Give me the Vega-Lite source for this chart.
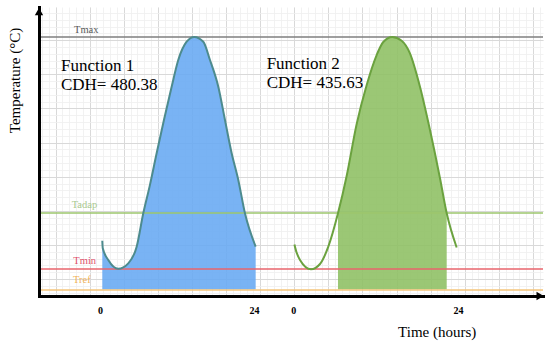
{
  "$schema": "https://vega.github.io/schema/vega-lite/v6.json",
  "width": 504,
  "height": 289,
  "autosize": {"type": "none"},
  "padding": {"left": 39, "top": 7, "right": 7, "bottom": 49},
  "background": "white",
  "config": {"view": {"stroke": null}, "font": "Liberation Serif"},
  "datasets": {
    "curves": [
      {"series": "Function 1", "t": 1.85, "T": 10.6},
      {"series": "Function 1", "t": 1.92, "T": 9.5},
      {"series": "Function 1", "t": 2.73, "T": 7.79},
      {"series": "Function 1", "t": 4.19, "T": 6.5},
      {"series": "Function 1", "t": 5.66, "T": 7.3},
      {"series": "Function 1", "t": 6.89, "T": 9.74},
      {"series": "Function 1", "t": 7.86, "T": 14.63},
      {"series": "Function 1", "t": 8.84, "T": 18.8},
      {"series": "Function 1", "t": 9.82, "T": 23.43},
      {"series": "Function 1", "t": 10.89, "T": 28.31},
      {"series": "Function 1", "t": 12.02, "T": 33.2},
      {"series": "Function 1", "t": 12.99, "T": 37.11},
      {"series": "Function 1", "t": 14.22, "T": 39.79},
      {"series": "Function 1", "t": 15.34, "T": 40.5},
      {"series": "Function 1", "t": 16.66, "T": 39.79},
      {"series": "Function 1", "t": 17.64, "T": 37.11},
      {"series": "Function 1", "t": 18.86, "T": 33.2},
      {"series": "Function 1", "t": 19.84, "T": 28.31},
      {"series": "Function 1", "t": 20.82, "T": 23.43},
      {"series": "Function 1", "t": 21.79, "T": 19.52},
      {"series": "Function 1", "t": 22.77, "T": 14.63},
      {"series": "Function 1", "t": 24.34, "T": 9.74},
      {"series": "Function 2", "t": 30.03, "T": 10.06},
      {"series": "Function 2", "t": 30.1, "T": 9.74},
      {"series": "Function 2", "t": 30.84, "T": 7.79},
      {"series": "Function 2", "t": 32.45, "T": 6.42},
      {"series": "Function 2", "t": 33.77, "T": 7.2},
      {"series": "Function 2", "t": 34.99, "T": 9.74},
      {"series": "Function 2", "t": 36.41, "T": 14.63},
      {"series": "Function 2", "t": 37.68, "T": 20.1},
      {"series": "Function 2", "t": 39.15, "T": 27.73},
      {"series": "Function 2", "t": 40.62, "T": 33.45},
      {"series": "Function 2", "t": 42.08, "T": 37.84},
      {"series": "Function 2", "t": 43.05, "T": 39.75},
      {"series": "Function 2", "t": 44.37, "T": 40.5},
      {"series": "Function 2", "t": 45.75, "T": 39.94},
      {"series": "Function 2", "t": 46.96, "T": 38.09},
      {"series": "Function 2", "t": 48.43, "T": 33.2},
      {"series": "Function 2", "t": 49.9, "T": 26.85},
      {"series": "Function 2", "t": 51.36, "T": 19.81},
      {"series": "Function 2", "t": 52.35, "T": 14.63},
      {"series": "Function 2", "t": 53.81, "T": 9.62}
    ],
    "refs": [
      {"name": "Tmax", "T": 40.48},
      {"name": "Tadap", "T": 14.68},
      {"name": "Tmin", "T": 6.47},
      {"name": "Tref", "T": 3.39}
    ],
    "reflabels": [
      {"name": "Tmax", "t": -2.3, "T": 41.03},
      {"name": "Tadap", "t": -2.64, "T": 15.41},
      {"name": "Tmin", "t": -2.4, "T": 7.2},
      {"name": "Tref", "t": -2.45, "T": 4.41}
    ],
    "notes": [
      {"text": "Function 1", "t": -4.21, "T": 35.54},
      {"text": "CDH= 480.38", "t": -4.21, "T": 32.71},
      {"text": "Function 2", "t": 25.95, "T": 35.75},
      {"text": "CDH= 435.63", "t": 25.95, "T": 32.96}
    ]
  },
  "layer": [
    {
      "data": {"name": "curves"},
      "transform": [{"filter": "datum.series == 'Function 1'"}],
      "mark": {"type": "area", "interpolate": "monotone", "color": "#66a8f2", "opacity": 0.88},
      "encoding": {
        "x": {"field": "t", "type": "quantitative", "scale": {"domain": [-7.43, 66.47], "nice": false, "zero": false},
          "axis": {"orient": "bottom", "grid": true, "tickCount": 74, "gridColor": "#efefef", "gridWidth": 0.8, "domain": false, "ticks": false, "labels": false, "title": null, "zindex": 0}},
        "y": {"field": "T", "type": "quantitative", "scale": {"domain": [2.51, 44.88], "nice": false, "zero": false},
          "axis": {"orient": "left", "grid": true, "tickCount": 43, "gridColor": "#efefef", "gridWidth": 0.8, "domain": false, "ticks": false, "labels": false, "title": null, "zindex": 0}},
        "y2": {"datum": 3.45}
      }
    },
    {
      "data": {"name": "curves"},
      "transform": [{"filter": "datum.series == 'Function 2' && datum.t >= 36.41 && datum.t <= 52.35"}],
      "mark": {"type": "area", "interpolate": "monotone", "color": "#8dbf62", "opacity": 0.88},
      "encoding": {
        "x": {"field": "t", "type": "quantitative", "scale": {"domain": [-7.43, 66.47], "nice": false, "zero": false},
          "axis": {"orient": "bottom", "grid": true, "tickCount": 15, "gridColor": "#d9d9d9", "gridWidth": 1, "domain": false, "ticks": false, "labels": false, "title": null, "zindex": 0}},
        "y": {"field": "T", "type": "quantitative", "scale": {"domain": [2.51, 44.88], "nice": false, "zero": false},
          "axis": {"orient": "left", "grid": true, "tickCount": 9, "gridColor": "#d9d9d9", "gridWidth": 1, "domain": false, "ticks": false, "labels": false, "title": null, "zindex": 0}},
        "y2": {"datum": 3.45}
      }
    },
    {
      "data": {"name": "refs"},
      "mark": {"type": "rule", "strokeWidth": 1.6},
      "encoding": {
        "y": {"field": "T", "type": "quantitative", "scale": {"domain": [2.51, 44.88], "nice": false, "zero": false}, "axis": null},
        "color": {"field": "name", "type": "nominal", "scale": {"domain": ["Tmax", "Tadap", "Tmin", "Tref"], "range": ["#7f7f7f", "#9cc66c", "#e8646c", "#f5c57a"]}, "legend": null}
      }
    },
    {
      "data": {"name": "curves"},
      "mark": {"type": "line", "interpolate": "monotone", "strokeWidth": 2},
      "encoding": {
        "x": {"field": "t", "type": "quantitative", "scale": {"domain": [-7.43, 66.47], "nice": false, "zero": false},
          "axis": {"orient": "bottom", "values": [1.51, 24.09, 29.85, 54.0],
            "labelExpr": "(datum.value < 10 || (datum.value > 25 && datum.value < 40)) ? '0' : '24'",
            "grid": false, "ticks": false, "tickSize": 0, "domain": true, "domainColor": "black", "domainWidth": 3, "domainCap": "square",
            "labelFont": "Liberation Serif", "labelFontWeight": "bold", "labelFontSize": 10, "labelColor": "black",
            "labelPadding": 14, "labelBaseline": "middle", "labelFlush": false, "labelOverlap": false,
            "title": "Time (hours)", "titleFont": "Liberation Serif", "titleFontSize": 15, "titleFontWeight": "normal", "titleColor": "black",
            "titleX": 397.7, "titleY": 40.7, "titleBaseline": "alphabetic", "titleAlign": "center", "zindex": 1}},
        "y": {"field": "T", "type": "quantitative", "scale": {"domain": [2.51, 44.88], "nice": false, "zero": false},
          "axis": {"orient": "left", "grid": false, "ticks": false, "labels": false, "domain": true, "domainColor": "black", "domainWidth": 3, "domainCap": "square",
            "title": "Temperature (°C)", "titleFont": "Liberation Serif", "titleFontSize": 15, "titleFontWeight": "normal", "titleColor": "black",
            "titleX": -25, "titleY": 73, "titleAngle": 270, "titleBaseline": "middle", "titleAlign": "center", "zindex": 1}},
        "color": {"field": "series", "type": "nominal", "scale": {"domain": ["Function 1", "Function 2"], "range": ["#4d8b8e", "#6ba23f"]}, "legend": null}
      }
    },
    {
      "data": {"name": "reflabels"},
      "mark": {"type": "text", "align": "left", "baseline": "alphabetic", "font": "Liberation Serif", "fontSize": 10.5},
      "encoding": {
        "x": {"field": "t", "type": "quantitative", "scale": {"domain": [-7.43, 66.47], "nice": false, "zero": false}, "axis": null},
        "y": {"field": "T", "type": "quantitative", "scale": {"domain": [2.51, 44.88], "nice": false, "zero": false}, "axis": null},
        "text": {"field": "name"},
        "color": {"field": "name", "type": "nominal", "scale": {"domain": ["Tmax", "Tadap", "Tmin", "Tref"], "range": ["#5a5a5a", "#a9c98f", "#e0506a", "#f0b35a"]}, "legend": null}
      }
    },
    {
      "data": {"name": "notes"},
      "mark": {"type": "text", "align": "left", "baseline": "alphabetic", "font": "Liberation Serif", "fontSize": 17, "color": "black"},
      "encoding": {
        "x": {"field": "t", "type": "quantitative", "scale": {"domain": [-7.43, 66.47], "nice": false, "zero": false}, "axis": null},
        "y": {"field": "T", "type": "quantitative", "scale": {"domain": [2.51, 44.88], "nice": false, "zero": false}, "axis": null},
        "text": {"field": "text"}
      }
    },
    {
      "data": {"values": [{}]},
      "mark": {"type": "point", "shape": "triangle-up", "filled": true, "color": "black", "size": 70, "opacity": 1},
      "encoding": {
        "x": {"datum": -7.43, "type": "quantitative", "axis": null},
        "y": {"datum": 44.2, "type": "quantitative", "axis": null}
      }
    },
    {
      "data": {"values": [{}]},
      "mark": {"type": "point", "shape": "triangle-right", "filled": true, "color": "black", "size": 70, "opacity": 1},
      "encoding": {
        "x": {"datum": 66.05, "type": "quantitative", "axis": null},
        "y": {"datum": 2.51, "type": "quantitative", "axis": null}
      }
    }
  ],
  "resolve": {"axis": {"x": "independent", "y": "independent"}, "scale": {"color": "independent"}}
}
